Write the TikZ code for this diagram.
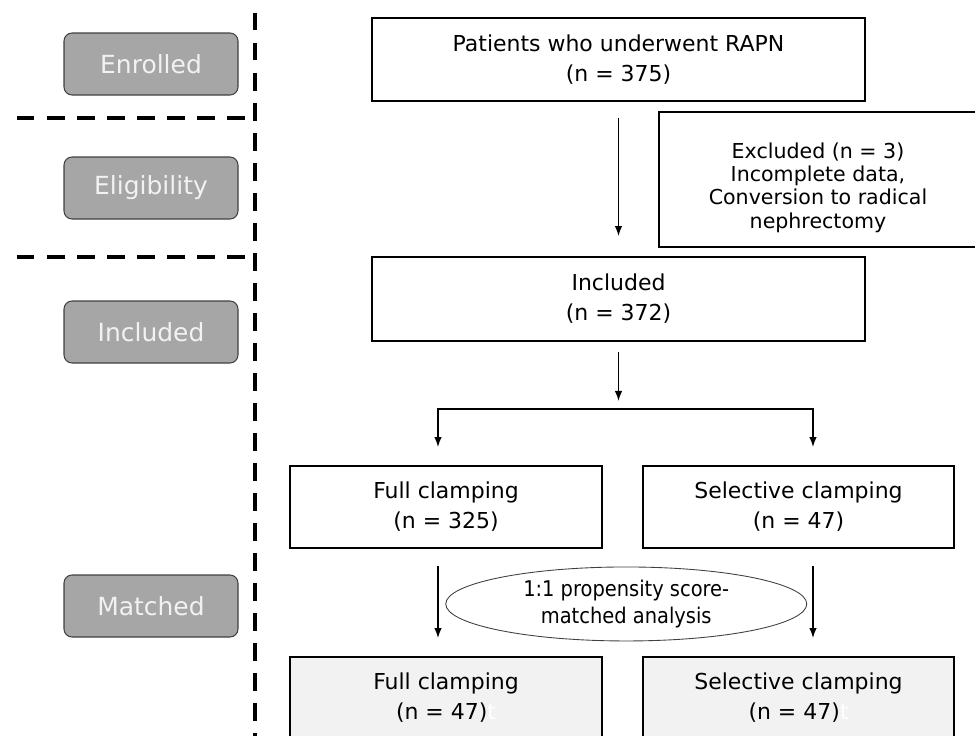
\documentclass[tikz,border=0pt]{standalone}
\usepackage{fontspec}
\setmainfont{DejaVu Sans}
\newfontfamily\ovalfont{DejaVu Sans Condensed}
\usepackage{xcolor}
\usepackage{tikz}
\usetikzlibrary{calc}
\usetikzlibrary{shapes}
\usetikzlibrary{arrows.meta}

\definecolor{stagegray}{HTML}{A6A6A6}
\definecolor{stageline}{HTML}{404040}
\definecolor{paleback}{HTML}{F2F2F2}

\begin{document}
\begin{tikzpicture}[>={Latex[length=2mm,width=1.5mm]},
		stagebox/.style={rounded corners=1.6mm, rectangle, draw=stageline, line width=0.6pt, fill=stagegray, text=paleback, minimum width=34.8mm, minimum height=12.4mm, font=\fontsize{14.2}{17}\selectfont},
		flowbox/.style={rectangle, draw=black, line width=1.1pt, align=center, font=\fontsize{12.5}{17}\selectfont},
		dashdiv/.style={line width=2.3pt, dash pattern=on 3.5mm off 2.5mm},
		flowarrow/.style={->, line width=0.8pt}]
		\useasboundingbox (0,0) rectangle (19.5,-14.72);

		%stages
		\node at (3.02,-1.28) (enrolled) [stagebox] {Enrolled};
		\node at ($(enrolled.center)+(0cm,-2.48cm)$) (eligible) [stagebox] {Eligibility};
		\node at ($(eligible.center)+(0cm,-2.88cm)$) (inclstage) [stagebox] {Included};
		\node at ($(inclstage.center)+(0cm,-5.48cm)$) (matched) [stagebox] {Matched};

		%dividers
		\draw [dashdiv] (5.1,-0.26) -- (5.1,-15);
		\draw [dashdiv] (0.34,-2.36) -- (5.1,-2.36);
		\draw [dashdiv] (0.34,-5.14) -- (5.1,-5.14);

		%elements
		\node at (12.37,-1.19) (patients) [flowbox, minimum width=98.6mm, minimum height=16.6mm] {Patients who underwent RAPN\\(n = 375)};

		\node at ($(patients.center)+(3.99cm,-2.4cm)$) (excluded) [flowbox, minimum width=63.6mm, minimum height=27mm, font=\fontsize{11.7}{13.3}\selectfont] {\raisebox{0pt}[\dimexpr\height+0.36cm\relax]{\begin{tabular}{@{}c@{}}Excluded (n = 3)\\Incomplete data,\\Conversion to radical\\nephrectomy\end{tabular}}};

		\node at ($(patients.center)+(0cm,-4.79cm)$) (included) [flowbox, minimum width=98.6mm, minimum height=16.8mm] {Included\\(n = 372)};

		\node at ($(included.center)+(-3.45cm,-4.16cm)$) (full) [flowbox, minimum width=62.4mm, minimum height=16.4mm] {Full clamping\\(n = 325)};

		\node at ($(full.center)+(7.05cm,0cm)$) (selective) [flowbox, minimum width=62.2mm, minimum height=16.4mm] {Selective clamping\\(n = 47)};

		\node at ($(full.south)!0.5!(selective.south)+(0.08cm,-1.1cm)$) (psm) [ellipse, draw=black!75, line width=0.5pt, minimum width=72.2mm, minimum height=14.8mm, inner sep=0pt, align=center, font=\ovalfont\fontsize{12.3}{15.3}\selectfont] {1:1 propensity score-\\matched analysis};

		\node at ($(full.center)+(0cm,-3.82cm)$) (fullmatch) [flowbox, fill=paleback, minimum width=62.4mm, minimum height=16.4mm] {Full clamping\\(n = 47){\color{white}t}};

		\node at ($(selective.center)+(0cm,-3.82cm)$) (selmatch) [flowbox, fill=paleback, minimum width=62.2mm, minimum height=16.4mm] {Selective clamping\\(n = 47){\color{white}t}};

		%arrows
		\coordinate (split) at ($(included.south)+(0cm,-1.34cm)$);
		\draw [flowarrow, shorten <=0.32cm, shorten >=0.4cm] (patients.south) -- (included.north);
		\draw [flowarrow, shorten <=0.2cm, shorten >=0.16cm] (included.south) -- (split);
		\draw [flowarrow, <->] ($(full.north)+(-0.16cm,0.36cm)$) |- (split) -| ($(selective.north)+(0.29cm,0.36cm)$);
		\draw [flowarrow] ($(full.south)+(-0.16cm,-0.34cm)$) -- ($(fullmatch.north)+(-0.16cm,0.36cm)$);
		\draw [flowarrow] ($(selective.south)+(0.29cm,-0.34cm)$) -- ($(selmatch.north)+(0.29cm,0.36cm)$);
\end{tikzpicture}
\end{document}
